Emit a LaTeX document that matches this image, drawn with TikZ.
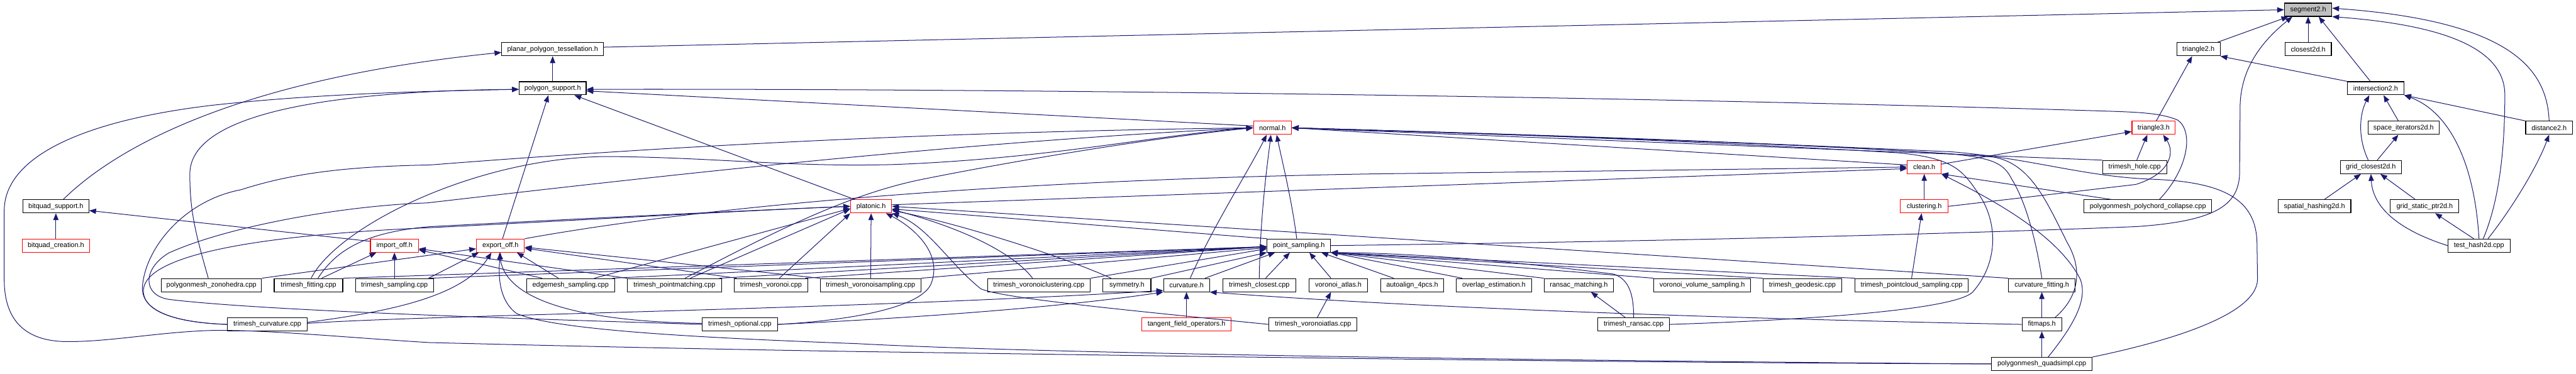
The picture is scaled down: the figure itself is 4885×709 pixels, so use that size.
\documentclass[tikz,border=0pt]{standalone}
\usepackage{fontspec}
\setmainfont{Liberation Sans}
\usetikzlibrary{arrows.meta}
\definecolor{edgec}{HTML}{191970}
\definecolor{redc}{HTML}{FF0000}
\definecolor{grayc}{HTML}{BFBFBF}
\tikzset{
  box/.style={draw=black, line width=1.3pt, fill=white, minimum height=25pt, inner sep=1pt, anchor=center},
  redbox/.style={box, draw=redc},
  rootbox/.style={box, fill=grayc},
  e/.style={draw=edgec, line width=1.2pt, -{Triangle[length=13pt,width=10pt]}}
}
\begin{document}
\begin{tikzpicture}[x=1pt,y=-1pt,font=\fontsize{13}{15}\selectfont]
\useasboundingbox (0,0) rectangle (4885,709);
% row 0
\node[rootbox, minimum width=90pt] (seg) at (4377,18.5) {segment2.h};
% row 1
\node[box, minimum width=193pt] (ppt) at (1048,93.5) {planar\_polygon\_tessellation.h};
\node[box, minimum width=82pt] (tri2) at (4169,93.5) {triangle2.h};
\node[box, minimum width=88pt] (cl2d) at (4377,93.5) {closest2d.h};
% row 2
\node[box, minimum width=127pt] (psup) at (1048,167.5) {polygon\_support.h};
\node[box, minimum width=107pt] (int2) at (4505,167.5) {intersection2.h};
% row 3
\node[redbox, minimum width=72pt] (normal) at (2413,242.5) {normal.h};
\node[redbox, minimum width=82pt] (tri3) at (4084,242.5) {triangle3.h};
\node[box, minimum width=135pt] (spit) at (4558,242.5) {space\_iterators2d.h};
\node[box, minimum width=89pt] (dist2) at (4834,242.5) {distance2.h};
% row 4
\node[redbox, minimum width=64pt] (clean) at (3649,317) {clean.h};
\node[box, minimum width=122pt] (hole) at (4048,317) {trimesh\_hole.cpp};
\node[box, minimum width=116pt] (gcl) at (4496,317) {grid\_closest2d.h};
% row 5
\node[box, minimum width=125pt] (bqs) at (106,391.5) {bitquad\_support.h};
\node[redbox, minimum width=78pt] (plat) at (1652,391.5) {platonic.h};
\node[redbox, minimum width=90pt] (clus) at (3649,391.5) {clustering.h};
\node[box, minimum width=242pt] (poly) at (4073,391.5) {polygonmesh\_polychord\_collapse.cpp};
\node[box, minimum width=138pt] (sph) at (4389,391.5) {spatial\_hashing2d.h};
\node[box, minimum width=130pt] (gsp) at (4598,391.5) {grid\_static\_ptr2d.h};
% row 6
\node[redbox, minimum width=127pt] (bqc) at (106,466) {bitquad\_creation.h};
\node[redbox, minimum width=91pt] (imp) at (748,466) {import\_off.h};
\node[redbox, minimum width=91pt] (exp) at (949,466) {export\_off.h};
\node[box, minimum width=120pt] (ps) at (2463,466) {point\_sampling.h};
\node[box, minimum width=118pt] (th2) at (4701,466) {test\_hash2d.cpp};
% row 7
\node[box, minimum width=190pt] (zono) at (401,541) {polygonmesh\_zonohedra.cpp};
\node[box, minimum width=130pt] (fit) at (585,541) {trimesh\_fitting.cpp};
\node[box, minimum width=148pt] (samp) at (748,541) {trimesh\_sampling.cpp};
\node[box, minimum width=167pt] (edgem) at (1082,541) {edgemesh\_sampling.cpp};
\node[box, minimum width=179pt] (pm) at (1279,541) {trimesh\_pointmatching.cpp};
\node[box, minimum width=139pt] (vor) at (1462,541) {trimesh\_voronoi.cpp};
\node[box, minimum width=191pt] (vs) at (1651,541) {trimesh\_voronoisampling.cpp};
\node[box, minimum width=195pt] (vc) at (1970,541) {trimesh\_voronoiclustering.cpp};
\node[box, minimum width=91pt] (sym) at (2137,541) {symmetry.h};
\node[box, minimum width=87pt] (curv) at (2250,541) {curvature.h};
\node[box, minimum width=138pt] (tclo) at (2388,541) {trimesh\_closest.cpp};
\node[box, minimum width=111pt] (va) at (2538,541) {voronoi\_atlas.h};
\node[box, minimum width=120pt] (aa) at (2678,541) {autoalign\_4pcs.h};
\node[box, minimum width=143pt] (ov) at (2833,541) {overlap\_estimation.h};
\node[box, minimum width=132pt] (rm) at (2994,541) {ransac\_matching.h};
\node[box, minimum width=183pt] (vvs) at (3228,541) {voronoi\_volume\_sampling.h};
\node[box, minimum width=149pt] (geo) at (3418,541) {trimesh\_geodesic.cpp};
\node[box, minimum width=214pt] (pcs) at (3625,541) {trimesh\_pointcloud\_sampling.cpp};
\node[box, minimum width=126pt] (cf) at (3872,541) {curvature\_fitting.h};
% row 8
\node[box, minimum width=151pt] (tcurv) at (507,615.5) {trimesh\_curvature.cpp};
\node[box, minimum width=143pt] (opt) at (1403,615.5) {trimesh\_optional.cpp};
\node[redbox, minimum width=169pt] (tfo) at (2250,615.5) {tangent\_field\_operators.h};
\node[box, minimum width=167pt] (vat) at (2490,615.5) {trimesh\_voronoiatlas.cpp};
\node[box, minimum width=136pt] (ran) at (3098,615.5) {trimesh\_ransac.cpp};
\node[box, minimum width=75pt] (fm) at (3872,615.5) {fitmaps.h};
% row 9
\node[box, minimum width=191pt] (qs) at (3872,690.5) {polygonmesh\_quadsimpl.cpp};

% ---------- edges: right part ----------
\draw[e] ([xshift=-6pt]tri2.north east) -- ([xshift=8pt]seg.south west);
\draw[e] (cl2d) -- (seg);
\draw[e] ([yshift=4pt]ppt.east) -- (seg.west);
\draw[e] ([xshift=-10pt]int2.north) -- ([xshift=20pt]seg.south);
\draw[e] (int2.north west) -- (tri2.south east);
\draw[e] (dist2.north) .. controls (4830,130) and (4760,40) .. ([yshift=3pt]seg.east);
\draw[e] ([xshift=8pt]th2.north) .. controls (4740,380) and (4750,280) .. (4750,180) .. controls (4750,80) and (4600,45) .. (seg.south east);
\draw[e] ([xshift=17pt]th2.north) .. controls (4760,400) and (4810,320) .. (dist2.south);
\draw[e] (th2.north) .. controls (4692,300) and (4640,210) .. (int2.south east);
\draw[e] (th2.west) .. controls (4560,440) and (4500,400) .. (gcl.south);
\draw[e] ([xshift=-10pt]th2.north) -- (gsp);
\draw[e] (gsp) -- (gcl);
\draw[e] (sph) -- (gcl);
\draw[e] ([xshift=-5pt]gcl.north) .. controls (4470,260) and (4475,215) .. ([xshift=-12pt]int2.south);
\draw[e] ([xshift=12pt]gcl.north) -- ([xshift=-10pt]spit.south);
\draw[e] ([xshift=-10pt]spit.north) -- ([xshift=15pt]int2.south);
\draw[e] (dist2.north west) -- (int2.south east);
\draw[e] ([xshift=5pt]tri3.north) -- ([xshift=-12pt]tri2.south);
\draw[e] ([xshift=4pt]hole.north) -- ([xshift=-12pt]tri3.south);
\draw[e] (clean) -- (tri3);
\draw[e] (clus.east) -- (4050,350) .. controls (4115,330) and (4125,290) .. ([xshift=18pt]tri3.south);
\draw[e] (clus) -- (clean);
\draw[e] ([xshift=52pt]poly.north west) -- (clean.south east);
\draw[e] ([xshift=22pt]poly.north) .. controls (4150,320) and (4160,250) .. (4130,228) .. controls (4100,215) and (4060,213) .. (4000,211) .. controls (3000,180) and (1800,168) .. ([yshift=-2pt]psup.east);
\draw[e] (pcs.north) -- ([xshift=-5pt]clus.south);
% ---------- quadsimpl / fitmaps ----------
\draw[e] (qs) -- (fm);
\draw[e] (fm) -- (cf);
\draw[e] (fm.west) .. controls (3300,605) and (2700,585) .. (curv.south east);
\draw[e] ([xshift=12pt]qs.north) .. controls (3930,620) and (3960,570) .. (3945,530) .. controls (3900,440) and (3760,370) .. (clean.south east);
\draw[e] (qs.north east) .. controls (4100,650) and (4280,600) .. (4281,530) -- (4280,460) .. controls (4278,380) and (4220,345) .. (4080,340) .. controls (3950,335) and (3850,300) .. (3700,288) .. controls (3300,270) and (2900,255) .. (normal.east);
\draw[e] ([xshift=25pt]fm.north) .. controls (3935,570) and (3955,520) .. (3920,460) .. controls (3880,380) and (3850,310) .. (3780,298) .. controls (3500,275) and (3000,260) .. (normal.east);
\draw[e] (cf.north) .. controls (3860,450) and (3840,380) .. (3815,340) .. controls (3800,310) and (3780,300) .. (3700,292) .. controls (3400,272) and (3000,258) .. (normal.east);
\draw[e] (ran.east) .. controls (3400,608) and (3700,590) .. (3740,555) .. controls (3790,500) and (3790,420) .. (3750,365) .. controls (3720,320) and (3700,300) .. (3600,290) .. controls (3300,272) and (2900,255) .. (normal.east);
\draw[e] (hole.north west) -- (normal.east);
\draw[e] ([yshift=4pt]clean.west) -- (normal.east);
\draw[e] (qs.west) .. controls (3000,688) and (2200,675) .. (1625,667) .. controls (1200,660) and (900,652) .. (815,650) .. controls (650,640) and (500,625) .. (400,627) .. controls (300,630) and (200,650) .. (120,648) .. controls (40,645) and (8,600) .. (8,530) -- (8,400) .. controls (8,300) and (150,230) .. (400,200) .. controls (600,178) and (800,173) .. ([yshift=-2pt]psup.west);
\draw[e] (qs.west) .. controls (3000,685) and (2000,672) .. (1625,652) .. controls (1300,640) and (1050,625) .. (980,595) .. controls (945,570) and (945,520) .. (exp.south);
% ---------- ransac ----------
\draw[e] ([xshift=-16pt]ran.north) -- ([xshift=23pt]rm.south);
\draw[e] (ran.north) .. controls (3098,560) and (3090,530) .. (3060,520) .. controls (2900,500) and (2700,480) .. (ps.south east);
\draw[e] (rm.north west) -- (ps.south east);
\draw[e] (vvs.north west) -- (ps.south east);
\draw[e] (geo.north west) -- (ps.south east);
\draw[e] (pcs.north west) -- (ps.south east);
\draw[e] ([xshift=-60pt]ov.north) -- (ps.south east);
\draw[e] ([xshift=-35pt]aa.north) -- ([xshift=-18pt]ps.south east);
\draw[e] ([xshift=-14pt]va.north) -- ([xshift=20pt]ps.south);
\draw[e] ([xshift=12pt]tclo.north) -- ([xshift=-17pt]ps.south);
\draw[e] ([xshift=35pt]curv.north) -- ([xshift=-45pt]ps.south);
\draw[e] (sym.north east) -- (ps.south west);
\draw[e] (vc.north east) -- ([yshift=-6pt]ps.west);
\draw[e] (vs.north east) -- ([yshift=-4pt]ps.west);
\draw[e] (fit.north east) -- ([yshift=-2pt]ps.west);
\draw[e] ([xshift=-8pt]samp.north east) -- ([yshift=-2pt]ps.west);
\draw[e] ([xshift=-5pt]edgem.north east) -- ([yshift=-2pt]ps.west);
\draw[e] ([xshift=-5pt]pm.north east) -- ([yshift=-2pt]ps.west);
\draw[e] ([xshift=-5pt]vor.north east) -- ([yshift=-2pt]ps.west);
\draw[e] (ps.east) .. controls (3300,456) and (3800,440) .. (4050,430) .. controls (4200,420) and (4245,390) .. (4247,330) -- (4248,200) .. controls (4250,120) and (4300,70) .. ([xshift=-30pt]seg.south);
% ---------- normal ----------
\draw[e] ([yshift=3.5pt]normal.west) -- ([yshift=-5pt]psup.east);
\draw[e] ([xshift=7pt]curv.north) .. controls (2300,430) and (2370,320) .. ([xshift=-11pt]normal.south);
\draw[e] (tclo.north) .. controls (2390,400) and (2405,300) .. ([xshift=-3pt]normal.south);
\draw[e] ([xshift=-4pt]ps.north) .. controls (2450,380) and (2430,300) .. ([xshift=8pt]normal.south);
\draw[e] ([xshift=20pt]pm.north) .. controls (1450,450) and (1600,370) .. (1750,340) .. controls (1950,300) and (2200,260) .. (normal.west);
\draw[e] ([xshift=5pt]fit.north) .. controls (640,430) and (900,300) .. (1148,297) .. controls (1350,298) and (1500,318) .. (1700,312) .. controls (2000,300) and (2200,255) .. (normal.west);
\draw[e] (tcurv.west) .. controls (330,612) and (268,590) .. (270,545) .. controls (275,470) and (350,380) .. (457,360) .. controls (550,330) and (650,316) .. (815,313) .. controls (1300,275) and (1800,250) .. (normal.west);
\draw[e] (opt.west) .. controls (1000,605) and (500,590) .. (320,568) .. controls (270,560) and (270,510) .. (320,480) .. controls (430,430) and (650,390) .. (810,385) .. controls (1200,340) and (1800,270) .. (normal.west);
% ---------- platonic ----------
\draw[e] ([xshift=8pt]plat.north west) -- ([xshift=-23pt]psup.south east);
\draw[e] ([yshift=3pt]plat.east) -- ([yshift=-3pt]clean.west);
\draw[e] (vs) -- (plat);
\draw[e] ([xshift=16pt]vor.north) -- (plat.south west);
\draw[e] ([xshift=30pt]pm.north) -- ([yshift=-5pt]plat.west);
\draw[e] ([xshift=45pt]edgem.north) -- ([yshift=-4pt]plat.west);
\draw[e] ([xshift=18pt]fit.north) .. controls (640,470) and (700,440) .. (815,430) .. controls (1100,415) and (1400,400) .. (plat.west);
\draw[e] (tcurv.west) .. controls (330,612) and (270,590) .. (272,550) .. controls (275,500) and (400,450) .. (815,432) .. controls (1100,418) and (1400,400) .. (plat.west);
\draw[e] (ps.north west) -- ([yshift=-5pt]plat.east);
\draw[e] (cf.north west) -- (plat.east);
\draw[e] ([xshift=-12pt]vc.north) .. controls (1930,490) and (1850,440) .. ([yshift=-6pt]plat.east);
\draw[e] ([xshift=-30pt]sym.north) .. controls (2000,480) and (1800,420) .. ([yshift=-8pt]plat.east);
\draw[e] (vat.west) .. controls (2100,585) and (1900,565) .. (1860,548) .. controls (1800,500) and (1760,430) .. (plat.south east);
\draw[e] (opt.east) .. controls (1580,610) and (1740,590) .. (1765,540) .. controls (1790,480) and (1730,430) .. ([xshift=28pt]plat.south);
% ---------- curvature ----------
\draw[e] (tfo) -- (curv);
\draw[e] (opt.east) .. controls (1700,605) and (2000,585) .. (curv.south west);
\draw[e] ([yshift=2pt]tcurv.east) .. controls (800,598) and (1600,588) .. ([yshift=3pt]curv.south west);
\draw[e] ([xshift=8pt]vat.north) -- ([xshift=-14pt]va.south);
% ---------- export / import ----------
\draw[e] ([xshift=4pt]exp.north) -- ([xshift=-8pt]psup.south);
\draw[e] (exp.north east) .. controls (1400,380) and (2000,340) .. (2600,330) -- (clean.west);
\draw[e] ([yshift=4pt]tcurv.east) .. controls (750,590) and (880,560) .. ([xshift=-17pt]exp.south);
\draw[e] ([yshift=2pt]opt.west) .. controls (1100,610) and (960,570) .. ([xshift=-2pt]exp.south);
\draw[e] (zono.north east) -- ([yshift=-6pt]exp.west);
\draw[e] ([xshift=-10pt]samp.north east) -- ([xshift=5pt]exp.south west);
\draw[e] ([xshift=-23pt]edgem.north) -- ([xshift=-15pt]exp.south east);
\draw[e] ([xshift=5pt]vor.north west) -- ([yshift=-5pt]exp.east);
\draw[e] (vs.north west) -- ([yshift=-3pt]exp.east);
\draw[e] ([xshift=25pt]fit.north) -- ([xshift=12pt]imp.south west);
\draw[e] (samp) -- (imp);
\draw[e] ([xshift=30pt]edgem.north west) -- ([yshift=-8pt]imp.east);
\draw[e] (pm.north west) -- ([yshift=-6pt]imp.east);
\draw[e] ([yshift=-5pt]imp.north west) -- ([yshift=-8pt]bqs.east);
\draw[e] (bqc) -- (bqs);
% ---------- polygon support / ppt ----------
\draw[e] (psup) -- (ppt);
\draw[e] ([xshift=14pt]bqs.north) .. controls (220,280) and (450,150) .. ([yshift=-6pt]ppt.west);
\draw[e] ([xshift=-6pt]zono.north) .. controls (370,440) and (360,400) .. (360,330) .. controls (360,200) and (700,172) .. ([yshift=-2pt]psup.west);
\end{tikzpicture}
\end{document}
